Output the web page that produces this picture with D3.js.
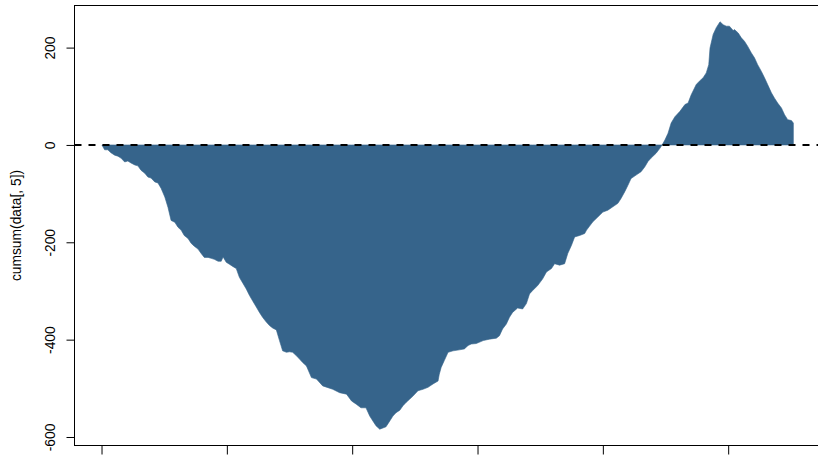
<!DOCTYPE html>
<html>
<head>
<meta charset="utf-8">
<script src="https://cdn.jsdelivr.net/npm/d3@7"></script>
<style>
  html, body { margin: 0; padding: 0; background: #ffffff; }
  svg { display: block; }
  text { font-family: "Liberation Sans", Arial, Helvetica, sans-serif; }
</style>
</head>
<body>
<svg id="chart" width="818" height="455"></svg>
<script>
// Observation index of each sample along the running total
const sampleIndex = [
  1, 5, 10, 15, 21, 26, 31, 37, 42, 47, 53, 58, 63, 69, 74, 79, 85, 90, 95,
  101, 106, 111, 117, 122, 127, 132, 138, 143, 148, 154, 159, 164, 170, 175,
  180, 186, 191, 194, 199, 204, 210, 215, 220, 226, 231, 236, 241, 247, 252,
  257, 263, 268, 273, 279, 284, 289, 295, 300, 305, 311, 316, 321, 327, 335,
  343, 353, 369, 380, 391, 399, 407, 414, 422, 428, 433, 438, 444, 454, 460,
  465, 470, 476, 481, 486, 492, 497, 505, 513, 521, 529, 537, 539, 542, 547,
  553, 561, 571, 579, 585, 590, 598, 609, 619, 630, 635, 640, 646, 651, 656,
  664, 672, 678, 683, 688, 696, 704, 710, 718, 723, 731, 739, 744, 750, 755,
  763, 771, 774, 784, 792, 800, 808, 816, 824, 829, 835, 840, 845, 853, 861,
  867, 872, 877, 885, 891, 895, 899, 904, 909, 915, 923, 931, 936, 941, 949,
  954, 960, 965, 969, 971, 976, 981, 987, 992, 997, 1002, 1008, 1010, 1016,
  1021, 1026, 1031, 1037, 1042, 1047, 1053, 1058, 1063, 1069, 1074, 1079,
  1085, 1090, 1095, 1101, 1104
];

// cumsum(data[, 5]) at each sample
const cumValue = [
  -1, -10, -10, -16, -21, -23, -27, -35, -33, -37, -41, -43, -52, -58, -66, -68, -76, -78, -89,
  -107, -128, -155, -159, -169, -175, -186, -192, -202, -208, -214, -223, -231, -231, -233,
  -235, -239, -239, -230, -241, -245, -250, -254, -272, -285, -296, -309, -320, -333, -344,
  -354, -364, -371, -376, -380, -402, -423, -426, -425, -426, -433, -440, -447, -454, -478,
  -481, -495, -502, -509, -512, -526, -533, -540, -540, -557, -567, -577, -584, -579, -567,
  -557, -550, -545, -536, -529, -522, -516, -505, -502, -498, -491, -485, -471, -457, -443,
  -426, -423, -421, -419, -412, -409, -408, -402, -399, -397, -392, -378, -368, -354, -344,
  -335, -337, -326, -306, -299, -289, -275, -261, -254, -244, -247, -244, -223, -206, -189,
  -186, -182, -175, -158, -148, -138, -134, -127, -120, -110, -96, -83, -69, -62, -55,
  -45, -34, -27, -17, -7, 1, 10, 24, 45, 58, 69, 83, 86, 103, 124,
  131, 138, 148, 165, 199, 227, 241, 253, 247, 244, 244, 235, 237, 230,
  220, 213, 203, 189, 179, 165, 151, 138, 124, 107, 96, 86,
  76, 62, 52, 50, 45
];

const yTicks = [-600, -400, -200, 0, 200];
const xTicks = [0, 200, 400, 600, 800, 1000];
const yLabel = "cumsum(data[, 5])";
const fillColor = "#36648B";

const points = sampleIndex.map((x, i) => ({ x, v: cumValue[i] }));

// Plot region with a 4% margin around the data range on both axes
function padded(extent) {
  const pad = (extent[1] - extent[0]) * 0.04;
  return [extent[0] - pad, extent[1] + pad];
}

const plot = { left: 74.5, right: 821, top: 5.5, bottom: 445.5 };

const x = d3.scaleLinear()
  .domain(padded(d3.extent(sampleIndex)))
  .range([plot.left, plot.right]);

const y = d3.scaleLinear()
  .domain(padded(d3.extent(cumValue)))
  .range([plot.bottom, plot.top]);

const svg = d3.select("#chart");

// Running total, filled against the zero line
const area = d3.area()
  .x(d => x(d.x))
  .y0(y(0))
  .y1(d => y(d.v));

svg.append("path")
  .datum(points)
  .attr("d", area)
  .attr("fill", fillColor)
  .attr("stroke", fillColor)
  .attr("stroke-width", 0.6);

// Dashed reference line at zero
svg.append("line")
  .attr("x1", plot.left)
  .attr("x2", plot.right)
  .attr("y1", y(0))
  .attr("y2", y(0))
  .attr("stroke", "#000")
  .attr("stroke-width", 2)
  .attr("stroke-dasharray", "7,7");

// Frame around the plot region
svg.append("rect")
  .attr("x", plot.left)
  .attr("y", plot.top)
  .attr("width", plot.right - plot.left)
  .attr("height", plot.bottom - plot.top)
  .attr("fill", "none")
  .attr("stroke", "#000")
  .attr("stroke-width", 1);

// Left axis: ticks with labels turned to read upwards
const yAxis = svg.append("g")
  .attr("transform", `translate(${plot.left},0)`)
  .call(d3.axisLeft(y)
    .tickValues(yTicks)
    .tickSize(8)
    .tickSizeOuter(0)
    .tickFormat(d => String(d)));

yAxis.select(".domain").remove();
yAxis.selectAll(".tick line").attr("stroke", "#000");
yAxis.selectAll(".tick text")
  .attr("transform", "rotate(-90)")
  .attr("x", 0)
  .attr("y", -20)
  .attr("dy", 0)
  .attr("text-anchor", "middle")
  .attr("fill", "#000")
  .style("font-size", "13.8px")
  .style("font-family", "'Liberation Sans', Arial, Helvetica, sans-serif");

// Bottom axis: tick marks under the frame
const xAxis = svg.append("g")
  .attr("transform", `translate(0,${plot.bottom})`)
  .call(d3.axisBottom(x)
    .tickValues(xTicks)
    .tickSize(9)
    .tickSizeOuter(0)
    .tickFormat(""));

xAxis.select(".domain").remove();
xAxis.selectAll(".tick line").attr("stroke", "#000");

// Axis title
svg.append("text")
  .attr("transform", `translate(21,${(plot.top + plot.bottom) / 2}) rotate(-90)`)
  .attr("text-anchor", "middle")
  .attr("fill", "#000")
  .style("font-size", "13.8px")
  .text(yLabel);
</script>
</body>
</html>
